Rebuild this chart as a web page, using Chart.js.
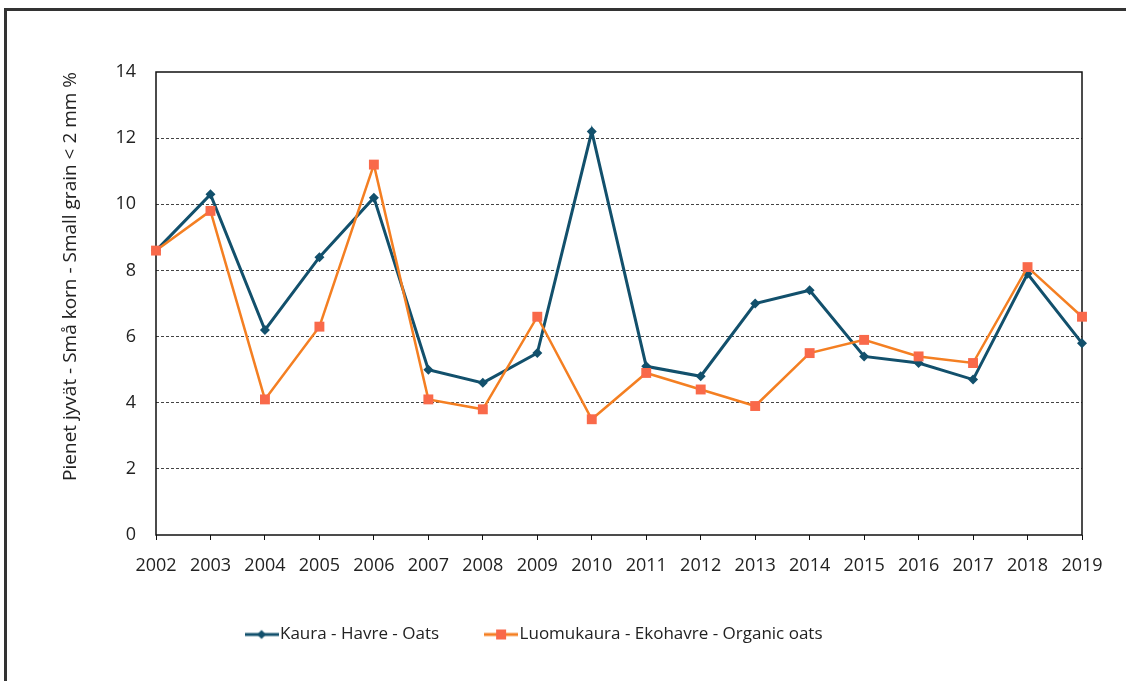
<!DOCTYPE html>
<html>
<head>
<meta charset="utf-8">
<script src="https://cdn.jsdelivr.net/npm/chart.js@4"></script>
<style>
html, body { margin: 0; padding: 0; background: #fff; overflow: hidden; }
#frame { position: absolute; left: 4px; top: 8px; width: 1300px; height: 800px; border-top: 3px solid #333; border-left: 3px solid #333; }
#box { position: absolute; left: -8px; top: 0; width: 1126px; height: 681px; }
</style>
</head>
<body>
<div id="frame"></div>
<div id="box"><canvas id="chart"></canvas></div>
<script>
const years = ['2002', '2003', '2004', '2005', '2006', '2007', '2008', '2009', '2010',
               '2011', '2012', '2013', '2014', '2015', '2016', '2017', '2018', '2019'];
const oats = [8.6, 10.3, 6.2, 8.4, 10.2, 5.0, 4.6, 5.5, 12.2, 5.1, 4.8, 7.0, 7.4, 5.4, 5.2, 4.7, 7.9, 5.8];
const organicOats = [8.6, 9.8, 4.1, 6.3, 11.2, 4.1, 3.8, 6.6, 3.5, 4.9, 4.4, 3.9, 5.5, 5.9, 5.4, 5.2, 8.1, 6.6];
const seriesNames = ['Kaura - Havre - Oats', 'Luomukaura - Ekohavre - Organic oats'];
const yTitle = 'Pienet jyvät - Små korn - Small grain < 2 mm %';

const tealColor = '#12506c';
const orangeLine = '#f47f22';
const orangeMarker = '#f9694a';
const fontFamily = '"Open Sans", sans-serif';

// small line + marker picture for the legend
function legendIcon(lineColor, markerColor, shape) {
    const c = document.createElement('canvas');
    c.width = 34;
    c.height = 14;
    const ctx = c.getContext('2d');
    ctx.strokeStyle = lineColor;
    ctx.lineWidth = 3;
    ctx.beginPath();
    ctx.moveTo(0, 7);
    ctx.lineTo(34, 7);
    ctx.stroke();
    ctx.fillStyle = markerColor;
    if (shape === 'diamond') {
        ctx.beginPath();
        ctx.moveTo(17, 2.5);
        ctx.lineTo(21.5, 7);
        ctx.lineTo(17, 11.5);
        ctx.lineTo(12.5, 7);
        ctx.closePath();
        ctx.fill();
    } else {
        ctx.fillRect(12, 2, 10, 10);
    }
    return c;
}

const plotFrame = {
    id: 'plotFrame',
    beforeDatasetsDraw(chart) {
        const { ctx, chartArea } = chart;
        ctx.save();
        ctx.strokeStyle = '#111';
        ctx.lineWidth = 1.5;
        ctx.strokeRect(chartArea.left, chartArea.top, chartArea.right - chartArea.left, chartArea.bottom - chartArea.top);
        ctx.restore();
    }
};

new Chart(document.getElementById('chart'), {
    type: 'line',
    data: {
        labels: years,
        datasets: [{
            label: seriesNames[1],
            data: organicOats,
            borderColor: orangeLine,
            borderWidth: 2.5,
            pointStyle: 'rect',
            pointRadius: 7,
            pointBackgroundColor: orangeMarker,
            pointBorderColor: orangeMarker,
            pointBorderWidth: 0,
            tension: 0,
            clip: false,
            order: 0
        }, {
            label: seriesNames[0],
            data: oats,
            borderColor: tealColor,
            borderWidth: 3,
            pointStyle: 'rectRot',
            pointRadius: 5,
            pointBackgroundColor: tealColor,
            pointBorderColor: tealColor,
            pointBorderWidth: 0,
            tension: 0,
            clip: false,
            order: 1
        }]
    },
    options: {
        responsive: true,
        maintainAspectRatio: false,
        animation: false,
        layout: {
            padding: { left: 0, right: 36, top: 72, bottom: 28 }
        },
        scales: {
            x: {
                type: 'category',
                offset: false,
                grid: {
                    display: true,
                    drawOnChartArea: false,
                    drawTicks: true,
                    tickLength: 5,
                    color: '#111',
                    lineWidth: 1
                },
                border: { display: false },
                ticks: {
                    color: '#222',
                    font: { family: fontFamily, size: 18 },
                    padding: 15,
                    maxRotation: 0,
                    autoSkip: false
                },
                afterFit(scale) {
                    scale.height = 39;
                    scale.paddingLeft = 0;
                    scale.paddingRight = 0;
                }
            },
            y: {
                min: 0,
                max: 14,
                grid: {
                    drawTicks: false,
                    color: ctx => (ctx.tick.value > 0 && ctx.tick.value < 14) ? '#444' : 'rgba(0,0,0,0)',
                    lineWidth: 1
                },
                border: { display: false, dash: [3, 2] },
                ticks: {
                    stepSize: 2,
                    color: '#222',
                    padding: 20,
                    font: { family: fontFamily, size: 18 }
                },
                title: {
                    display: true,
                    text: yTitle,
                    align: 'end',
                    color: '#222',
                    font: { family: fontFamily, size: 19 },
                    padding: { top: 67, bottom: 0 }
                },
                afterFit(scale) {
                    scale.width = 164;
                }
            }
        },
        plugins: {
            tooltip: { enabled: false },
            legend: {
                position: 'bottom',
                labels: {
                    color: '#222',
                    padding: 52,
                    usePointStyle: true,
                    pointStyleWidth: 20,
                    font: { family: fontFamily, size: 17 },
                    generateLabels() {
                        return [{
                            text: seriesNames[0],
                            pointStyle: legendIcon(tealColor, tealColor, 'diamond'),
                            fillStyle: tealColor,
                            strokeStyle: tealColor,
                            lineWidth: 0,
                            fontColor: '#222',
                            datasetIndex: 1
                        }, {
                            text: seriesNames[1],
                            pointStyle: legendIcon(orangeLine, orangeMarker, 'square'),
                            fillStyle: orangeMarker,
                            strokeStyle: orangeMarker,
                            lineWidth: 0,
                            fontColor: '#222',
                            datasetIndex: 0
                        }];
                    }
                }
            }
        }
    },
    plugins: [plotFrame]
});
</script>
</body>
</html>
